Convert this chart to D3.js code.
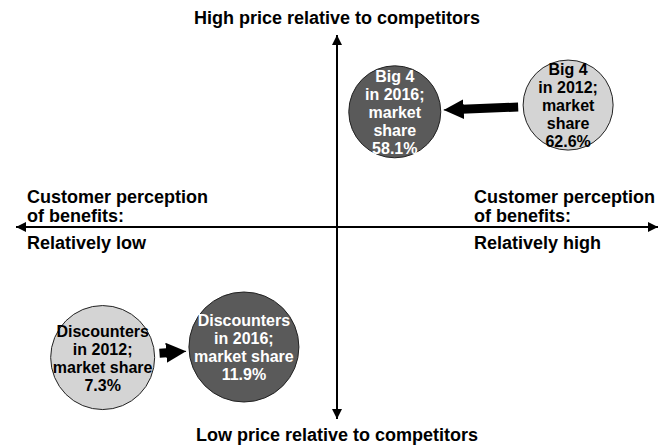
<!DOCTYPE html>
<html><head><meta charset="utf-8">
<script src="https://cdn.jsdelivr.net/npm/d3@7"></script>
<style>body{margin:0;background:#fff}text{font-family:"Liberation Sans",Arial,sans-serif;font-weight:bold}</style>
</head><body><svg id="c" width="666" height="447"></svg>
<script>
// positions in "perception" (x) and "price" (y) units, -100..100
var names = ["Big 4 2016", "Big 4 2012", "Discounters 2012", "Discounters 2016"];
var benefit = [18, 72, -73, -29];
var price = [60, 63.5, -68, -62.5];
var share = [58.1, 62.6, 7.3, 11.9];
var labels = [
  ["Big 4", "in 2016;", "market", "share", "58.1%"],
  ["Big 4", "in 2012;", "market", "share", "62.6%"],
  ["Discounters", "in 2012;", "market share", "7.3%"],
  ["Discounters", "in 2016;", "market share", "11.9%"]
];
var fills = ["#5a5a5a", "#d4d4d4", "#d4d4d4", "#5a5a5a"];
var radii = [46, 45, 52, 55];
var moves = [[1, 0], [2, 3]]; // from -> to

var svg = d3.select("#c");
var x = d3.scaleLinear().domain([-100, 100]).range([16, 658]);
var y = d3.scaleLinear().domain([-100, 100]).range([419, 35]);

var defs = svg.append("defs");
function head(id, w) {
  defs.append("marker").attr("id", id).attr("viewBox", "0 0 10 10").attr("refX", 10).attr("refY", 5)
    .attr("markerWidth", w).attr("markerHeight", w).attr("markerUnits", "userSpaceOnUse").attr("orient", "auto")
    .append("path").attr("d", "M0,0L10,5L0,10z").attr("fill", "#000");
}
head("ax", 10); head("big", 20);

[[0, 100], [0, -100]].forEach(function (p) {
  svg.append("line").attr("x1", x(0)).attr("x2", x(0)).attr("y1", y(0)).attr("y2", y(p[1]))
    .attr("stroke", "#000").attr("stroke-width", 2).attr("marker-end", "url(#ax)");
  svg.append("line").attr("x1", x(0)).attr("x2", x(p[1])).attr("y1", y(0)).attr("y2", y(0))
    .attr("stroke", "#000").attr("stroke-width", 2).attr("marker-end", "url(#ax)");
});

svg.append("text").attr("x", x(0)).attr("y", 24).attr("text-anchor", "middle").attr("font-size", 18).text("High price relative to competitors");
svg.append("text").attr("x", x(0)).attr("y", 441).attr("text-anchor", "middle").attr("font-size", 18).text("Low price relative to competitors");

[[27, "Relatively low"], [474, "Relatively high"]].forEach(function (s) {
  var t = svg.append("text").attr("font-size", 18);
  t.append("tspan").attr("x", s[0]).attr("y", 203).text("Customer perception");
  t.append("tspan").attr("x", s[0]).attr("y", 222).text("of benefits:");
  svg.append("text").attr("font-size", 18).attr("x", s[0]).attr("y", 249).text(s[1]);
});

moves.forEach(function (m) {
  var a = m[0], b = m[1];
  var x0 = x(benefit[a]), y0 = y(price[a]), x1 = x(benefit[b]), y1 = y(price[b]);
  var dx = x1 - x0, dy = y1 - y0, L = Math.sqrt(dx * dx + dy * dy);
  var ux = dx / L, uy = dy / L;
  var s0 = radii[a] + 5, s1 = radii[b] + 3;
  svg.append("line").attr("x1", x0 + ux * s0).attr("y1", y0 + uy * s0)
    .attr("x2", x1 - ux * (s1 + 12)).attr("y2", y1 - uy * (s1 + 12))
    .attr("stroke", "#000").attr("stroke-width", 9);
  svg.append("line").attr("x1", x1 - ux * (s1 + 14)).attr("y1", y1 - uy * (s1 + 14))
    .attr("x2", x1 - ux * s1).attr("y2", y1 - uy * s1)
    .attr("stroke", "#000").attr("stroke-width", 1).attr("marker-end", "url(#big)");
});

var g = svg.selectAll("g.b").data(names).enter().append("g").attr("class", "b")
  .attr("transform", function (d, i) { return "translate(" + x(benefit[i]) + "," + y(price[i]) + ")"; });
g.append("circle").attr("r", function (d, i) { return radii[i]; })
  .attr("fill", function (d, i) { return fills[i]; }).attr("stroke", "#222").attr("stroke-width", 1);
g.each(function (d, i) {
  var lines = labels[i], lh = 18;
  var t = d3.select(this).append("text").attr("text-anchor", "middle").attr("font-size", 16)
    .attr("fill", fills[i] === "#5a5a5a" ? "#fff" : "#000");
  lines.forEach(function (l, k) {
    t.append("tspan").attr("x", 0).attr("y", (k - (lines.length - 1) / 2) * lh + 6).text(l);
  });
});
</script></body></html>
